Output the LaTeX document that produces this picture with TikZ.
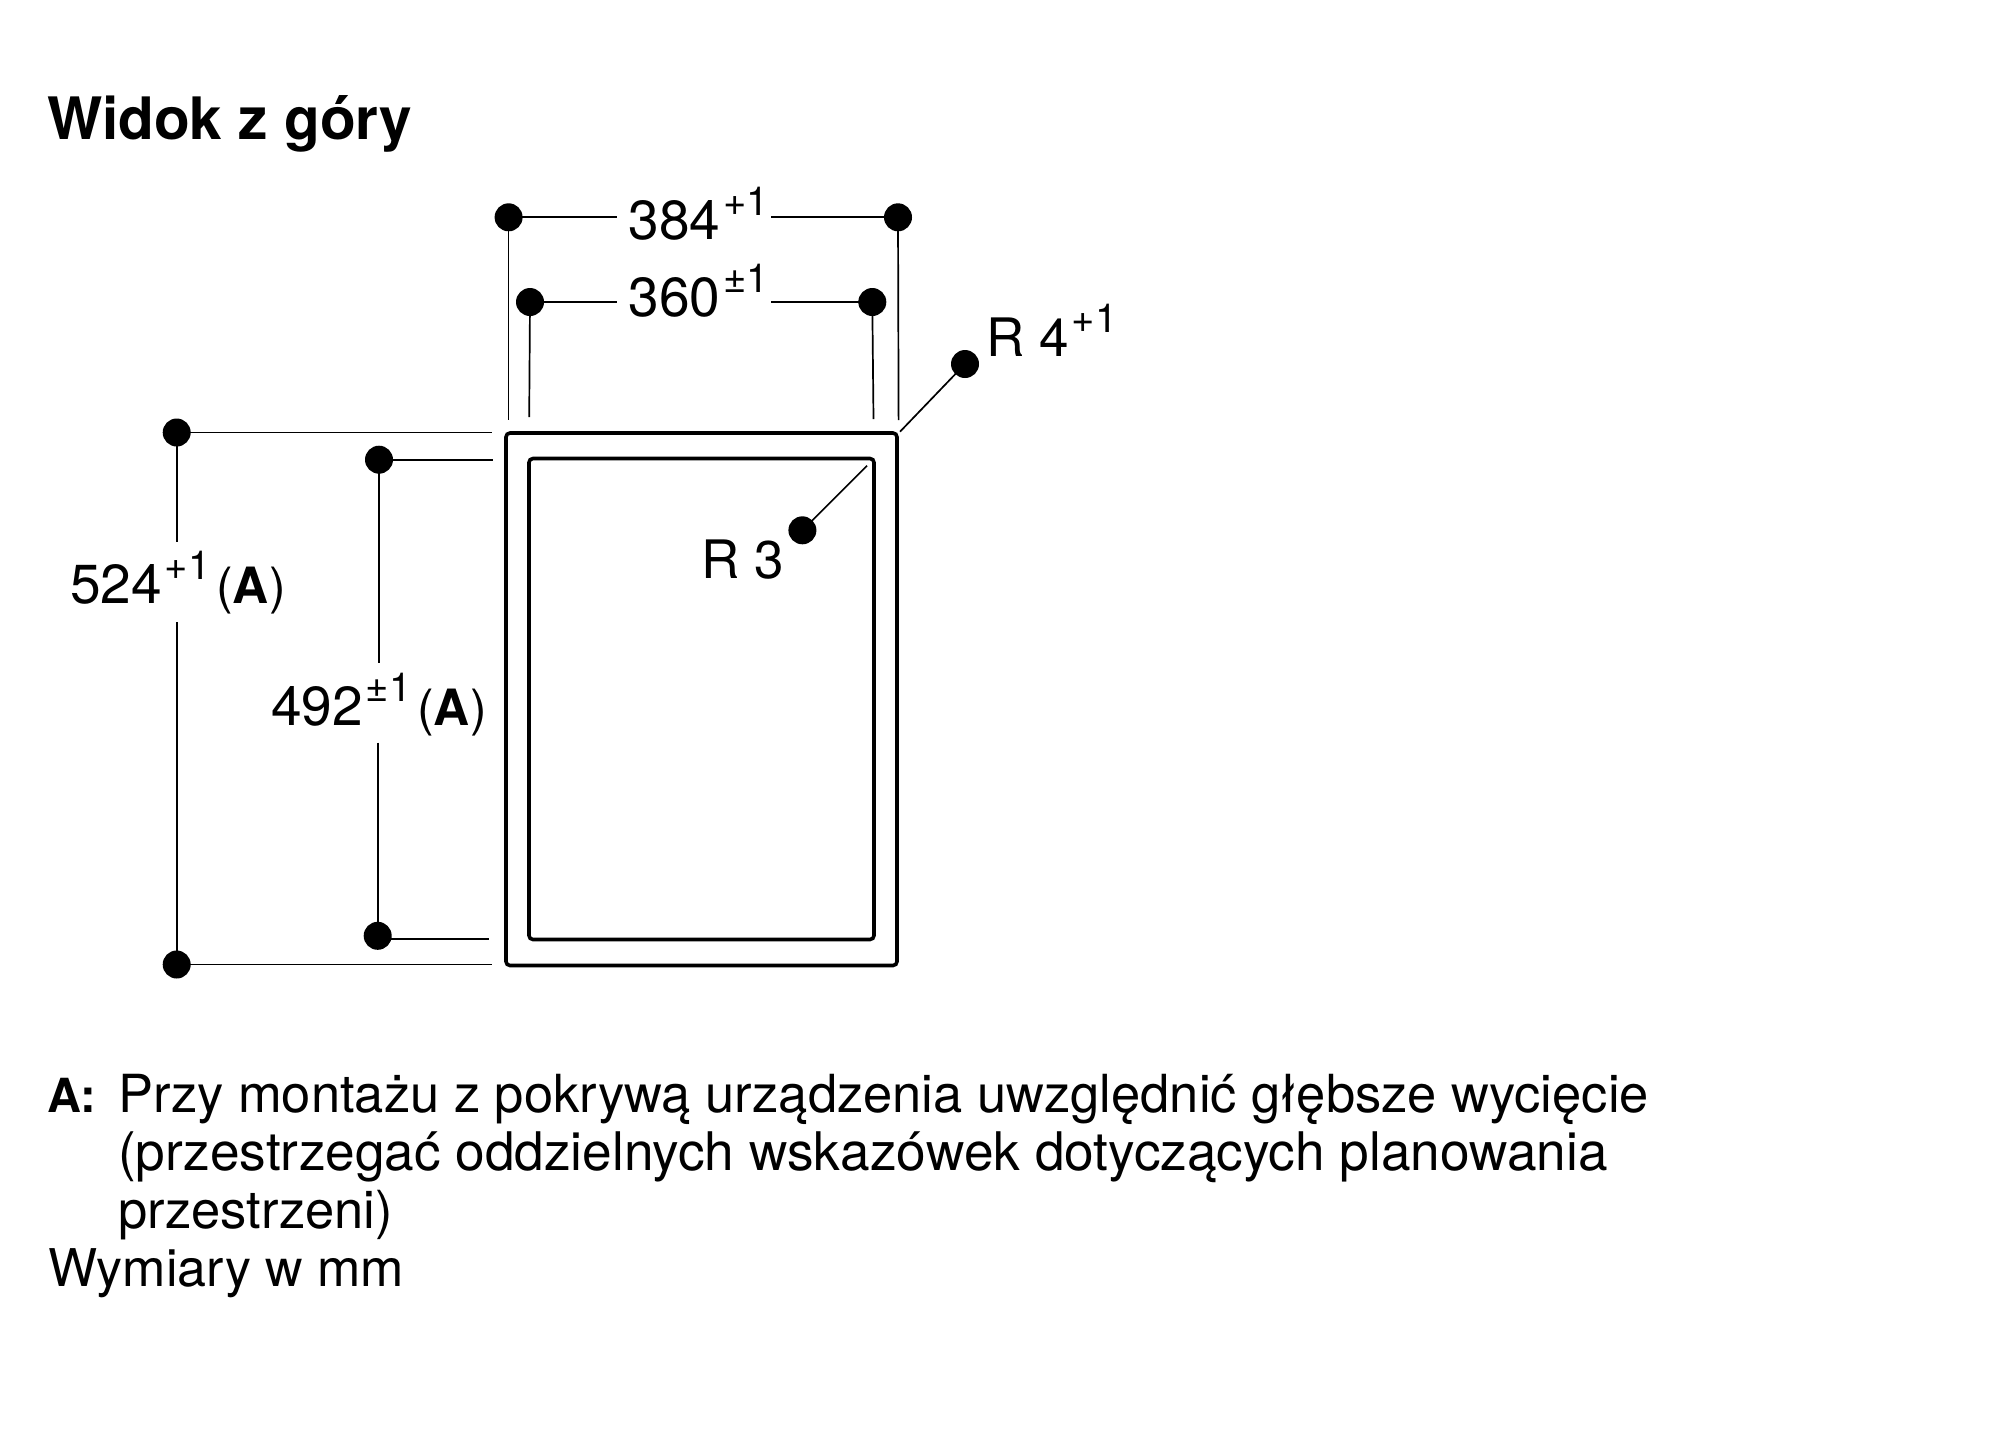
\documentclass[tikz,border=0pt]{standalone}
\usepackage{fontspec}
\setmainfont{TeX Gyre Heros}
\newcommand{\dimsup}[2]{#1\kern3pt\raisebox{24pt}{\fontsize{40}{40}\selectfont #2}}
\newcommand{\noteA}{\kern6pt{\fontsize{50}{57}\selectfont(\textbf{A})}}
\begin{document}
\begin{tikzpicture}[x=1pt,y=-1pt,
  dot/.style={circle,fill=black,draw=none,minimum size=28pt,inner sep=0pt},
  thin line/.style={draw=black,line width=1.7pt},
  frame line/.style={draw=black,line width=3.6pt,rounded corners=4pt},
  lab/.style={anchor=base west,inner sep=0pt,outer sep=0pt,font=\fontsize{55}{60}\selectfont},
  rlab/.style={anchor=base west,inner sep=0pt,outer sep=0pt,font=\fontsize{53}{60}\selectfont},
  body/.style={anchor=base west,inner sep=0pt,outer sep=0pt,font=\fontsize{52.5}{57}\selectfont},
  title/.style={anchor=base west,inner sep=0pt,outer sep=0pt,font=\fontsize{58.5}{60}\selectfont\bfseries}]
\useasboundingbox (0,0) rectangle (2000,1452);
% outlines
\draw[frame line] (506,433) rectangle (897,965.5);
\draw[frame line] (529,458.5) rectangle (874,939.5);
% dots
\node[dot] (t1) at (508.6,217.3) {};
\node[dot] (t2) at (898,217.3) {};
\node[dot] (u1) at (530,302) {};
\node[dot] (u2) at (872.3,302) {};
\node[dot] (r4) at (965,364) {};
\node[dot] (r3) at (802.4,530.3) {};
\node[dot] (a1) at (176.7,432.5) {};
\node[dot] (a2) at (176.7,964.5) {};
\node[dot] (b1) at (379,459.7) {};
\node[dot] (b2) at (377.7,935.8) {};
% free ends
\coordinate (t1e) at (508.6,420);
\coordinate (t2e) at (898.6,420);
\coordinate (u1e) at (529.2,417);
\coordinate (u2e) at (873.5,419);
\coordinate (t1g) at (617,217.3);
\coordinate (t2g) at (771,217.3);
\coordinate (u1g) at (617,302);
\coordinate (u2g) at (771,302);
\coordinate (r4e) at (900,431.7);
\coordinate (r3e) at (867,465.7);
\coordinate (a1e) at (491.7,432.5);
\coordinate (a2e) at (491.7,964.5);
\coordinate (b1e) at (493,459.7);
\coordinate (b2e) at (489,939);
\coordinate (a1g) at (176.7,542);
\coordinate (a2g) at (176.7,622);
\coordinate (b1g) at (378.5,663);
\coordinate (b2g) at (378.5,742.5);
% connectors
\draw[thin line] (t1.center) -- (t1e);
\draw[thin line] (t2.center) -- (t2e);
\draw[thin line] (u1.center) -- (u1e);
\draw[thin line] (u2.center) -- (u2e);
\draw[thin line] (t1.center) -- (t1g);
\draw[thin line] (t2g) -- (t2.center);
\draw[thin line] (u1.center) -- (u1g);
\draw[thin line] (u2g) -- (u2.center);
\draw[thin line] (r4.center) -- (r4e);
\draw[thin line] (r3.center) -- (r3e);
\draw[thin line] (a1.center) -- (a1e);
\draw[thin line] (a2.center) -- (a2e);
\draw[thin line] (b1.center) -- (b1e);
\draw[thin line] (b2.center |- b2e) -- (b2e);
\draw[thin line] (a1.center) -- (a1g);
\draw[thin line] (a2g) -- (a2.center);
\draw[thin line] (b1.center) -- (b1.center |- b1g);
\draw[thin line] (b2.center |- b2g) -- (b2.center);
% labels
\node[title] (ttl) at (47,139) {Widok z góry};
\node[lab] (l384) at (628.5,239) {\dimsup{384}{+1}};
\node[lab] (l360) at (628.5,316) {\dimsup{360}{±1}};
\node[rlab] (lr4) at (986.5,356.5) {\dimsup{R 4}{+1}};
\node[rlab] (lr3) at (701.5,578) {R 3};
\node[lab] (l524) at (70,603.5) {\dimsup{524}{+1}\noteA};
\node[lab] (l492) at (271,725) {\dimsup{492}{±1}\noteA};
\node[body,font=\fontsize{47}{57}\selectfont] (na) at (47,1112) {\textbf{A:}};
\node[body] (n1) at (118,1112) {Przy montażu z pokrywą urządzenia uwzględnić głębsze wycięcie};
\node[body,font=\fontsize{53.2}{57}\selectfont] (n2) at (118,1170) {(przestrzegać oddzielnych wskazówek dotyczących planowania};
\node[body] (n3) at (118,1228) {przestrzeni)};
\node[body,font=\fontsize{52}{57}\selectfont] (n4) at (48,1286) {Wymiary w mm};
\end{tikzpicture}
\end{document}
